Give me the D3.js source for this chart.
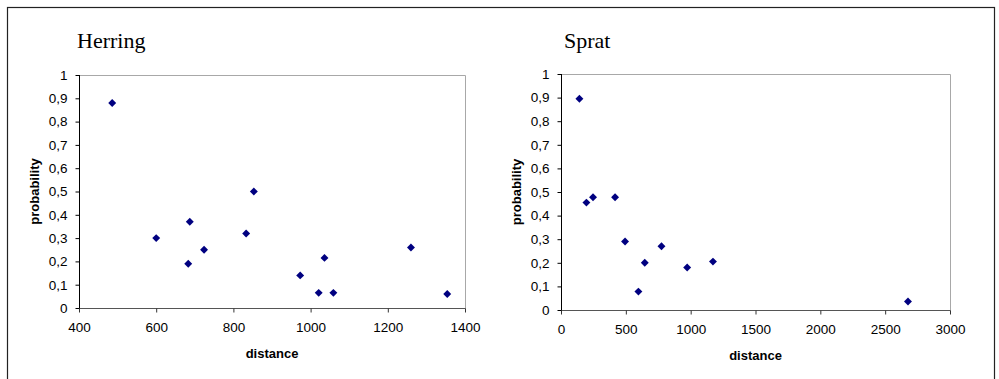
<!DOCTYPE html>
<html>
<head>
<meta charset="UTF-8">
<script src="https://d3js.org/d3.v7.min.js"></script>
<style type="text/css">
  body { margin: 0; background: #fff; }
  svg { display: block; }
  .tick text { font-family: "Liberation Sans", Arial, sans-serif; font-size: 13.5px; fill: #000; }
  .axis-title { font-family: "Liberation Sans", Arial, sans-serif; font-size: 13px; font-weight: bold; }
  .chart-title { font-family: "Liberation Serif", "Times New Roman", serif; font-size: 22px; }
</style>
</head>
<body>
<script type="text/javascript">
// Herring
const herringDistance = [486, 600, 687, 683, 724, 833, 853, 973, 1021, 1036, 1059, 1260, 1354];
const herringProb     = [0.88, 0.30, 0.37, 0.19, 0.25, 0.32, 0.50, 0.14, 0.065, 0.215, 0.065, 0.26, 0.06];
const herringXTicks = [400, 600, 800, 1000, 1200, 1400];

// Sprat
const spratDistance = [142, 196, 247, 417, 494, 597, 646, 775, 973, 1172, 2676];
const spratProb     = [0.895, 0.455, 0.478, 0.478, 0.29, 0.078, 0.20, 0.27, 0.18, 0.205, 0.036];
const spratXTicks = [0, 500, 1000, 1500, 2000, 2500, 3000];

const yTicks = [0, 0.1, 0.2, 0.3, 0.4, 0.5, 0.6, 0.7, 0.8, 0.9, 1];

const svg = d3.select('body').append('svg')
  .attr('width', 999)
  .attr('height', 379);

// outer frame
svg.append('rect')
  .attr('x', 7.5).attr('y', 7.5)
  .attr('width', 987).attr('height', 420)
  .attr('fill', 'none')
  .attr('stroke', '#222')
  .attr('stroke-width', 1.2);

function drawPanel(opts) {
  const x = d3.scaleLinear().domain(opts.xDomain).range([opts.left, opts.right]);
  const y = d3.scaleLinear().domain([0, 1]).range([opts.bottom, opts.top]);

  const g = svg.append('g');

  // top and right border of the plot area
  g.append('path')
    .attr('d', 'M' + (opts.left + 0.5) + ',' + (opts.top + 0.5) + 'H' + (opts.right + 0.5) + 'V' + (opts.bottom + 0.5))
    .attr('fill', 'none')
    .attr('stroke', '#a8a8a8');

  const xAxis = d3.axisBottom(x).tickValues(opts.xTicks).tickSize(4).tickPadding(10).tickFormat(d3.format('d'));
  const yAxis = d3.axisLeft(y).tickValues(yTicks).tickSize(4).tickPadding(8)
    .tickFormat(d => d === 0 || d === 1 ? String(d) : d3.format('.1f')(d).replace('.', ','));

  const gx = g.append('g')
    .attr('transform', 'translate(0,' + (opts.bottom + 0.5) + ')')
    .call(xAxis);
  gx.select('.domain').attr('stroke', '#555').attr('d', 'M' + opts.left + ',0H' + (opts.right + 0.5));
  gx.selectAll('.tick line').attr('stroke', '#333');

  const gy = g.append('g')
    .attr('transform', 'translate(' + (opts.left + 0.5) + ',0)')
    .call(yAxis);
  gy.select('.domain').attr('stroke', '#000').attr('d', 'M0,' + opts.top + 'V' + opts.bottom);
  gy.selectAll('.tick line').attr('stroke', '#000');

  // diamond markers
  const diamond = d3.symbol().type(d3.symbolDiamond2).size(40);
  g.selectAll('path.pt')
    .data(opts.xs.map((d, i) => [d, opts.ys[i]]))
    .join('path')
    .attr('class', 'pt')
    .attr('d', diamond)
    .attr('transform', d => 'translate(' + x(d[0]) + ',' + y(d[1]) + ')')
    .attr('fill', '#000080');

  g.append('text')
    .attr('class', 'chart-title')
    .attr('x', opts.titleX)
    .attr('y', 48)
    .text(opts.title);

  g.append('text')
    .attr('class', 'axis-title')
    .attr('transform', 'translate(' + opts.yTitleX + ',' + ((opts.top + opts.bottom) / 2) + ') rotate(-90)')
    .attr('text-anchor', 'middle')
    .text('probability');

  g.append('text')
    .attr('class', 'axis-title')
    .attr('x', (opts.left + opts.right) / 2)
    .attr('y', opts.xTitleY)
    .attr('text-anchor', 'middle')
    .text('distance');
}

drawPanel({
  title: 'Herring', titleX: 77,
  xs: herringDistance, ys: herringProb,
  xDomain: [400, 1400], xTicks: herringXTicks,
  left: 79, right: 465, top: 75, bottom: 308,
  yTitleX: 39, xTitleY: 358
});

drawPanel({
  title: 'Sprat', titleX: 564,
  xs: spratDistance, ys: spratProb,
  xDomain: [0, 3000], xTicks: spratXTicks,
  left: 561, right: 950, top: 74, bottom: 310,
  yTitleX: 521, xTitleY: 360
});
</script>
</body>
</html>
